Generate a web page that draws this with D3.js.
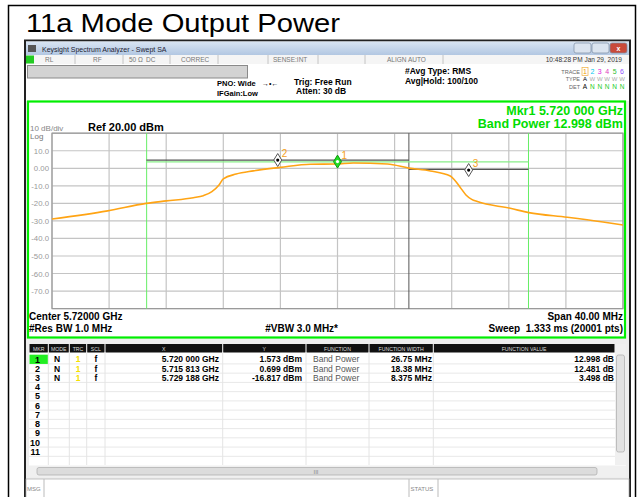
<!DOCTYPE html>
<html>
<head>
<meta charset="utf-8">
<script src="https://cdn.jsdelivr.net/npm/d3@7"></script>
<style>
  body { margin: 0; background: #fff; }
  svg { display: block; font-family: "Liberation Sans", Arial, sans-serif; }
</style>
</head>
<body>
<svg id="chart" width="639" height="497"></svg>
<script>
// trace (GHz, dBm)
var traceFreq = [5.7000, 5.7039, 5.7066, 5.7080, 5.7099, 5.7106, 5.7112, 5.7117,
  5.7120, 5.7129, 5.7141, 5.7160, 5.7181, 5.7199, 5.7211, 5.7235, 5.7250,
  5.7265, 5.7279, 5.7282, 5.7286, 5.7290, 5.7294, 5.7298, 5.7321, 5.7334,
  5.7361, 5.7386, 5.7400];
var traceLevel = [-28.9, -24.3, -20.0, -18.6, -16.8, -15.6, -13.3, -9.5,
  -6.0, -3.3, -1.5, 0.5, 2.3, 2.4, 3.0, 2.4, 0.1,
  -1.5, -4.4, -6.7, -10.9, -15.2, -17.7, -19.0, -22.8, -25.3,
  -27.9, -30.6, -32.3];

var yLabels = [10, 0, -10, -20, -30, -40, -50, -60, -70];

// markers
var markerNames = ['1', '2', '3'];
var markerFreq = [5.720000, 5.715813, 5.729188];
var markerShown = [3.8, 4.7, -1.0];
var bandLow = [5.70663, 5.70662, 5.72500];
var bandHigh = [5.73338, 5.72500, 5.73338];
var bandLevel = [3.6, 4.6, -0.6];

// marker table
var tblMode = ['N', 'N', 'N'];
var tblTrc = ['1', '1', '1'];
var tblScl = ['f', 'f', 'f'];
var tblX = ['5.720 000 GHz', '5.715 813 GHz', '5.729 188 GHz'];
var tblY = ['1.573 dBm', '0.699 dBm', '-16.817 dBm'];
var tblFunc = ['Band Power', 'Band Power', 'Band Power'];
var tblWidth = ['26.75 MHz', '18.38 MHz', '8.375 MHz'];
var tblValue = ['12.998 dB', '12.481 dB', '3.498 dB'];

var svg = d3.select('#chart');
var bold = 'bold';

// page frame + title
svg.append('rect').attr('x', 8.5).attr('y', 5.5).attr('width', 627).attr('height', 500)
  .attr('fill', '#fff').attr('stroke', '#000').attr('stroke-width', 1.5);
svg.append('text').attr('x', 26).attr('y', 32).attr('font-size', 26)
  .attr('textLength', 314).attr('lengthAdjust', 'spacingAndGlyphs')
  .text('11a Mode Output Power');

// window
svg.append('rect').attr('x', 25).attr('y', 40.5).attr('width', 605).attr('height', 460)
  .attr('fill', '#eeeeee').attr('stroke', '#222').attr('stroke-width', 2);

var grad = svg.append('defs').append('linearGradient').attr('id', 'tbar')
  .attr('x1', 0).attr('y1', 0).attr('x2', 0).attr('y2', 1);
grad.append('stop').attr('offset', 0).attr('stop-color', '#d9e5f3');
grad.append('stop').attr('offset', 1).attr('stop-color', '#b2c7e2');
svg.append('rect').attr('x', 26).attr('y', 41.5).attr('width', 603).attr('height', 13.5)
  .attr('fill', 'url(#tbar)');
svg.append('rect').attr('x', 28).attr('y', 45).attr('width', 8).attr('height', 7).attr('fill', '#555');
svg.append('text').attr('x', 42).attr('y', 51.5).attr('font-size', 7).attr('fill', '#223')
  .text('Keysight Spectrum Analyzer - Swept SA');
[[574, '#dbe4ef'], [592, '#dbe4ef'], [610, '#c94a3a']].forEach(function(b) {
  svg.append('rect').attr('x', b[0]).attr('y', 43).attr('width', 17).attr('height', 10)
    .attr('rx', 2).attr('fill', b[1]).attr('stroke', '#7d8ea5').attr('stroke-width', 0.7);
});
svg.append('text').attr('x', 618.5).attr('y', 51).attr('font-size', 7).attr('fill', '#fff')
  .attr('text-anchor', 'middle').attr('font-weight', bold).text('x');

// status row
svg.append('rect').attr('x', 26).attr('y', 55).attr('width', 603).attr('height', 9).attr('fill', '#f5f5f5');
svg.append('rect').attr('x', 26).attr('y', 55.5).attr('width', 8).attr('height', 8).attr('fill', '#22cc22');
[75, 123, 170, 218, 268, 318, 365, 443].forEach(function(d) {
  svg.append('line').attr('x1', d).attr('x2', d).attr('y1', 55).attr('y2', 64)
    .attr('stroke', '#c4c4c4');
});
[['RL', 45], ['RF', 93], ['50 Ω', 129], ['DC', 146], ['CORREC', 181], ['SENSE:INT', 273], ['ALIGN AUTO', 387]]
  .forEach(function(s) {
    svg.append('text').attr('x', s[1]).attr('y', 62).attr('font-size', 6.5).attr('fill', '#777').text(s[0]);
  });
svg.append('text').attr('x', 622).attr('y', 62).attr('font-size', 6.5).attr('fill', '#333')
  .attr('text-anchor', 'end').text('10:48:28 PM Jan 29, 2019');

// settings area
svg.append('rect').attr('x', 26).attr('y', 64).attr('width', 603).attr('height', 37).attr('fill', '#fff');
svg.append('rect').attr('x', 27.5).attr('y', 65.5).attr('width', 220).attr('height', 12.5)
  .attr('fill', '#d3d3d3').attr('stroke', '#8a8a8a');
var info = [
  ['PNO: Wide', 217, 86, 7.5], ['IFGain:Low', 217, 96, 7.5],
  ['Trig: Free Run', 294, 85, 8.5], ['Atten: 30 dB', 296, 94, 8.5],
  ['#Avg Type: RMS', 405, 74, 8.5], ['Avg|Hold: 100/100', 405, 84, 8.5]
];
info.forEach(function(s) {
  svg.append('text').attr('x', s[1]).attr('y', s[2]).attr('font-size', s[3])
    .attr('font-weight', bold).text(s[0]);
});
svg.append('text').attr('x', 262).attr('y', 86).attr('font-size', 7).text('→•←');
[['TRACE', 74], ['TYPE', 81], ['DET', 89]].forEach(function(s) {
  svg.append('text').attr('x', 580).attr('y', s[1]).attr('font-size', 5.5)
    .attr('text-anchor', 'end').attr('fill', '#666').text(s[0]);
});
var traceNumColor = ['#f0a000', '#00c8f0', '#e020e0', '#e040c0', '#30c030', '#9050ff'];
svg.append('rect').attr('x', 582).attr('y', 67.5).attr('width', 6).attr('height', 8)
  .attr('fill', 'none').attr('stroke', '#f0b040').attr('stroke-width', 0.7);
traceNumColor.forEach(function(c, i) {
  svg.append('text').attr('x', 585 + i * 7.4).attr('y', 74).attr('font-size', 7)
    .attr('text-anchor', 'middle').attr('fill', c).text(i + 1);
  svg.append('text').attr('x', 585 + i * 7.4).attr('y', 81).attr('font-size', 6)
    .attr('text-anchor', 'middle').attr('fill', i ? '#aaa' : '#000').text(i ? 'W' : 'A');
  svg.append('text').attr('x', 585 + i * 7.4).attr('y', 89).attr('font-size', 6.5)
    .attr('text-anchor', 'middle').attr('fill', i ? '#22cc22' : '#000').text(i ? 'N' : 'A');
});

// green graticule box
svg.append('rect').attr('x', 28).attr('y', 101.5).attr('width', 597).attr('height', 236)
  .attr('fill', '#fff').attr('stroke', '#00ee00').attr('stroke-width', 2.2);

var x = d3.scaleLinear().domain([5.700, 5.740]).range([52, 623]);
var y = d3.scaleLinear().domain([-80, 20]).range([308.6, 133.2]);

var g = svg.append('g');
var vgrid = d3.range(0, 11).map(function(i) { return 5.700 + i * 0.004; });
var hgrid = d3.range(-80, 21, 10);

g.selectAll('.vg').data(vgrid).enter().append('line')
  .attr('x1', x).attr('x2', x).attr('y1', y(20)).attr('y2', y(-80))
  .attr('stroke', '#c4c4c4').attr('stroke-width', 1.2);
g.selectAll('.hg').data(hgrid).enter().append('line')
  .attr('x1', x(5.700)).attr('x2', x(5.740)).attr('y1', y).attr('y2', y)
  .attr('stroke', '#c4c4c4').attr('stroke-width', 1.2);
g.append('rect').attr('x', x(5.700)).attr('y', y(20))
  .attr('width', x(5.740) - x(5.700)).attr('height', y(-80) - y(20))
  .attr('fill', 'none').attr('stroke', '#9a9a9a').attr('stroke-width', 1.2);

// y labels through an axis
var yAxis = d3.axisLeft(y).tickValues(yLabels).tickSize(0).tickPadding(0)
  .tickFormat(function(d) { return d === 0 ? '0.00' : d.toFixed(1); });
var ya = svg.append('g').attr('transform', 'translate(49,0)').call(yAxis);
ya.select('.domain').remove();
ya.selectAll('text').attr('font-size', 7.8).attr('fill', '#999')
  .attr('font-family', '"Liberation Sans", Arial, sans-serif');

// band power edges
g.append('line').attr('x1', x(5.725)).attr('x2', x(5.725)).attr('y1', y(20)).attr('y2', y(-80))
  .attr('stroke', '#555').attr('stroke-width', 1);
[bandLow[0], bandHigh[0]].forEach(function(f) {
  g.append('line').attr('x1', x(f)).attr('x2', x(f)).attr('y1', y(20)).attr('y2', y(-80))
    .attr('stroke', '#66ee66').attr('stroke-width', 1);
});
markerNames.forEach(function(m, i) {
  g.append('line').attr('x1', x(bandLow[i])).attr('x2', x(bandHigh[i]))
    .attr('y1', y(bandLevel[i])).attr('y2', y(bandLevel[i]))
    .attr('stroke', i === 0 ? '#88ee88' : '#555').attr('stroke-width', 1.2);
});

// trace
var line = d3.line()
  .x(function(d, i) { return x(traceFreq[i]); })
  .y(function(d) { return y(d); })
  .curve(d3.curveMonotoneX);
g.append('path').datum(traceLevel).attr('d', line)
  .attr('fill', 'none').attr('stroke', '#ffa414').attr('stroke-width', 1.6);

// markers
var diamond = 'M0,-6.5L4,0L0,6.5L-4,0Z';
markerNames.forEach(function(m, i) {
  var mx = x(markerFreq[i]), my = y(markerShown[i]);
  var mk = g.append('g').attr('transform', 'translate(' + mx + ',' + my + ')');
  mk.append('path').attr('d', diamond)
    .attr('fill', i === 0 ? '#22dd22' : '#fff')
    .attr('stroke', i === 0 ? '#119911' : '#555').attr('stroke-width', 1);
  mk.append('circle').attr('r', 1.6).attr('fill', i === 0 ? '#fff' : '#000');
  mk.append('text').attr('x', 4).attr('y', -3).attr('font-size', 10)
    .attr('fill', '#f5a020').text(m);
});

// annotations in the graticule
svg.append('text').attr('x', 623).attr('y', 115).attr('font-size', 12.5).attr('font-weight', bold)
  .attr('text-anchor', 'end').attr('fill', '#00dd00').text('Mkr1 5.720 000 GHz');
svg.append('text').attr('x', 623).attr('y', 127.5).attr('font-size', 12.5).attr('font-weight', bold)
  .attr('text-anchor', 'end').attr('fill', '#00dd00').text('Band Power 12.998 dBm');
svg.append('text').attr('x', 30).attr('y', 130.5).attr('font-size', 8).attr('fill', '#888').text('10 dB/div');
svg.append('text').attr('x', 30).attr('y', 139).attr('font-size', 8).attr('fill', '#777').text('Log');
svg.append('text').attr('x', 88).attr('y', 131).attr('font-size', 11).attr('font-weight', bold).text('Ref 20.00 dBm');
var foot = [
  ['Center 5.72000 GHz', 29, 319.5, 'start'], ['#Res BW 1.0 MHz', 29, 331.7, 'start'],
  ['#VBW 3.0 MHz*', 338, 331.7, 'end'], ['Span 40.00 MHz', 623, 319.5, 'end'],
  ['Sweep  1.333 ms (20001 pts)', 623, 331.7, 'end']
];
foot.forEach(function(s) {
  svg.append('text').attr('x', s[1]).attr('y', s[2]).attr('font-size', 10)
    .attr('font-weight', bold).attr('text-anchor', s[3]).attr('xml:space', 'preserve').text(s[0]);
});

// marker table
var cols = [29, 48.3, 69.3, 86.7, 105, 222.7, 306, 369, 433.3, 615];
var heads = ['MKR', 'MODE', 'TRC', 'SCL', 'X', 'Y', 'FUNCTION', 'FUNCTION WIDTH', 'FUNCTION VALUE'];
var rowH = 9.24, row0 = 359.3;
svg.append('rect').attr('x', 29).attr('y', 344).attr('width', 597).attr('height', 121.5).attr('fill', '#fff');
heads.forEach(function(h, i) {
  svg.append('rect').attr('x', cols[i] + 0.5).attr('y', 344).attr('width', cols[i + 1] - cols[i] - 1)
    .attr('height', 8.5).attr('fill', '#111');
  svg.append('text').attr('x', (cols[i] + cols[i + 1]) / 2).attr('y', 350.5).attr('font-size', 5.2)
    .attr('text-anchor', 'middle').attr('fill', '#ddd').text(h);
});
var rows = d3.range(1, 12);
rows.forEach(function(r, i) {
  var yy = row0 + i * rowH + rowH / 2;
  svg.append('line').attr('x1', 29).attr('x2', 615).attr('y1', yy).attr('y2', yy).attr('stroke', '#e8e8e8');
});
cols.slice(1, 9).forEach(function(c) {
  svg.append('line').attr('x1', c).attr('x2', c).attr('y1', 352.5).attr('y2', 465).attr('stroke', '#e4e4e4');
});
svg.append('rect').attr('x', 29.5).attr('y', row0 - rowH / 2).attr('width', 18.3).attr('height', rowH)
  .attr('fill', '#22ee22');
rows.forEach(function(r, i) {
  svg.append('text').attr('x', 40).attr('y', row0 + i * rowH + 3.2).attr('font-size', 9)
    .attr('font-weight', bold).attr('text-anchor', 'end').text(r);
});
tblX.forEach(function(v, i) {
  var yy = row0 + i * rowH + 3;
  var cells = [[tblMode[i], 57, 'middle', '#000'], [tblTrc[i], 78, 'middle', '#f5e000'],
    [tblScl[i], 96, 'middle', '#000'], [tblX[i], 219, 'end', '#000'], [tblY[i], 302, 'end', '#000'],
    [tblWidth[i], 432, 'end', '#000'], [tblValue[i], 614, 'end', '#000']];
  cells.forEach(function(c) {
    svg.append('text').attr('x', c[1]).attr('y', yy).attr('font-size', 8.5).attr('font-weight', bold)
      .attr('text-anchor', c[2]).attr('fill', c[3]).text(c[0]);
  });
  svg.append('text').attr('x', 313).attr('y', yy).attr('font-size', 8.5).attr('fill', '#555').text(tblFunc[i]);
});

// scrollbars
svg.append('rect').attr('x', 615).attr('y', 344).attr('width', 11).attr('height', 121).attr('fill', '#f0f0f0');
svg.append('rect').attr('x', 616.5).attr('y', 355).attr('width', 8).attr('height', 97).attr('rx', 2)
  .attr('fill', '#e2e2e2').attr('stroke', '#aaa').attr('stroke-width', 0.7);
svg.append('rect').attr('x', 29).attr('y', 466).attr('width', 597).attr('height', 11).attr('fill', '#f0f0f0');
svg.append('rect').attr('x', 37).attr('y', 467.5).attr('width', 560).attr('height', 7.5).attr('rx', 2)
  .attr('fill', '#dcdcdc').attr('stroke', '#aaa').attr('stroke-width', 0.7);
svg.append('text').attr('x', 316).attr('y', 474).attr('font-size', 6).attr('fill', '#888')
  .attr('text-anchor', 'middle').text('III');

// message bar
svg.append('rect').attr('x', 26).attr('y', 479).attr('width', 603).attr('height', 20)
  .attr('fill', '#fff').attr('stroke', '#aaa').attr('stroke-width', 0.7);
[44, 409, 438].forEach(function(d) {
  svg.append('line').attr('x1', d).attr('x2', d).attr('y1', 479).attr('y2', 497).attr('stroke', '#bbb');
});
svg.append('text').attr('x', 27).attr('y', 491).attr('font-size', 6).attr('fill', '#888').text('MSG');
svg.append('text').attr('x', 410.5).attr('y', 491).attr('font-size', 6).attr('fill', '#888').text('STATUS');
</script>
</body>
</html>
